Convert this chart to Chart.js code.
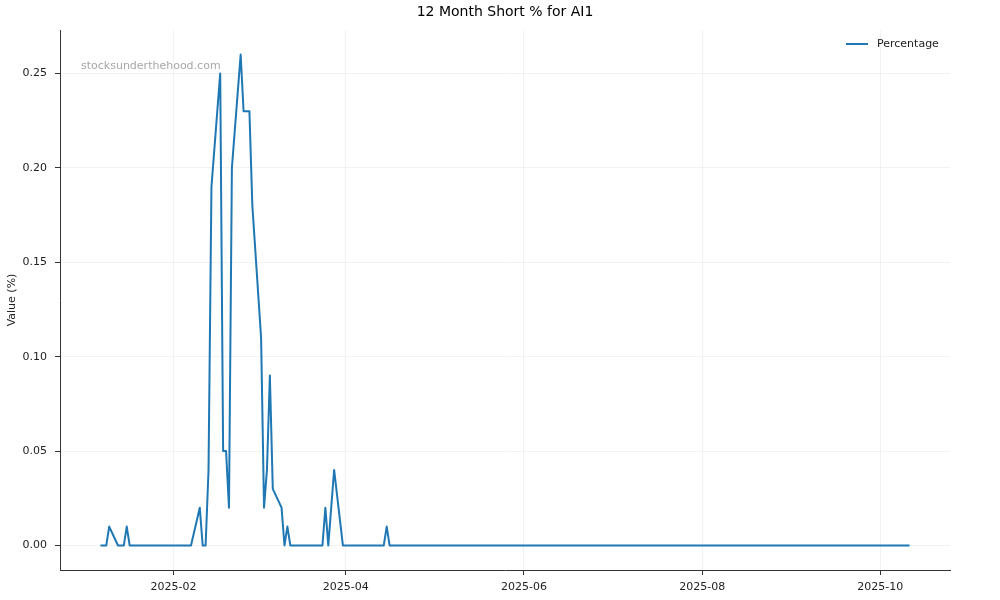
<!DOCTYPE html>
<html>
<head>
<meta charset="utf-8">
<script src="https://cdn.jsdelivr.net/npm/chart.js@4.4.1/dist/chart.umd.min.js"></script>
<style>
  html, body { margin: 0; padding: 0; background: #fff; }
  #wrap { width: 1000px; height: 600px; position: relative; }
</style>
</head>
<body>
<div id="wrap"><canvas id="c" width="1000" height="600"></canvas></div>
<script>
// ---- data ----
const chartTitle = '12 Month Short % for AI1';
const seriesName = 'Percentage';
const yAxisLabel = 'Value (%)';
const watermark = 'stocksunderthehood.com';

const dates = [
  '2025-01-07','2025-01-09','2025-01-10','2025-01-13','2025-01-15','2025-01-16','2025-01-17',
  '2025-02-07','2025-02-10','2025-02-11','2025-02-12','2025-02-13','2025-02-14','2025-02-17',
  '2025-02-18','2025-02-19','2025-02-20','2025-02-21','2025-02-24','2025-02-25','2025-02-26',
  '2025-02-27','2025-02-28','2025-03-03','2025-03-04','2025-03-05','2025-03-06','2025-03-07',
  '2025-03-10','2025-03-11','2025-03-12','2025-03-13','2025-03-24','2025-03-25','2025-03-26',
  '2025-03-27','2025-03-28','2025-03-31','2025-04-14','2025-04-15','2025-04-16','2025-10-11'
];
const values = [
  0.00, 0.00, 0.01, 0.00, 0.00, 0.01, 0.00,
  0.00, 0.02, 0.00, 0.00, 0.04, 0.19, 0.25,
  0.05, 0.05, 0.02, 0.20, 0.26, 0.23, 0.23,
  0.23, 0.18, 0.11, 0.02, 0.04, 0.09, 0.03,
  0.02, 0.00, 0.01, 0.00, 0.00, 0.02, 0.00,
  0.02, 0.04, 0.00, 0.00, 0.01, 0.00, 0.00
];
const xTickDates = ['2025-02-01','2025-04-01','2025-06-01','2025-08-01','2025-10-01'];
const xTickLabels = ['2025-02','2025-04','2025-06','2025-08','2025-10'];
const yTickValues = [0.00, 0.05, 0.10, 0.15, 0.20, 0.25];
const yTickLabels = ['0.00','0.05','0.10','0.15','0.20','0.25'];

// ---- build ----
const ts = d => Date.parse(d + 'T00:00:00Z');
const points = dates.map((d, i) => ({ x: ts(d), y: values[i] }));
const xTicks = xTickDates.map(ts);

const xMinD = Math.min(...points.map(p => p.x)), xMaxD = Math.max(...points.map(p => p.x));
const yMinD = Math.min(...values), yMaxD = Math.max(...values);
const xPad = (xMaxD - xMinD) * 0.05, yPad = (yMaxD - yMinD) * 0.05;

const FONT = 'DejaVu Sans';
const LINE = '#1f77b4';

const overlay = {
  id: 'overlay',
  afterDraw(chart) {
    const { ctx, chartArea: a } = chart;
    ctx.save();
    // title
    ctx.fillStyle = '#000';
    ctx.font = '14px "' + FONT + '"';
    ctx.textAlign = 'center';
    ctx.textBaseline = 'middle';
    ctx.fillText(chartTitle, (a.left + a.right) / 2, 12);
    // watermark
    ctx.fillStyle = 'rgba(128,128,128,0.7)';
    ctx.font = '11px "' + FONT + '"';
    ctx.textAlign = 'left';
    ctx.fillText(watermark, a.left + 21, 66);
    // legend
    ctx.strokeStyle = LINE;
    ctx.lineWidth = 2;
    ctx.beginPath();
    ctx.moveTo(846, 44);
    ctx.lineTo(868, 44);
    ctx.stroke();
    ctx.fillStyle = '#222';
    ctx.fillText(seriesName, 877, 44.5);
    ctx.restore();
  }
};

new Chart(document.getElementById('c'), {
  type: 'line',
  data: {
    datasets: [{
      label: seriesName,
      data: points,
      borderColor: LINE,
      backgroundColor: LINE,
      borderWidth: 2,
      borderJoinStyle: 'round',
      borderCapStyle: 'butt',
      pointRadius: 0,
      tension: 0,
      fill: false
    }]
  },
  options: {
    responsive: false,
    animation: false,
    devicePixelRatio: 1,
    layout: { padding: { left: 0, top: 30, right: 50, bottom: 0 } },
    plugins: {
      legend: { display: false },
      title: { display: false },
      tooltip: { enabled: false }
    },
    scales: {
      x: {
        type: 'linear',
        min: xMinD - xPad,
        max: xMaxD + xPad,
        afterBuildTicks: axis => { axis.ticks = xTicks.map(v => ({ value: v })); },
        afterFit: axis => { axis.height = 30; },
        ticks: {
          autoSkip: false,
          maxRotation: 0,
          padding: 6,
          color: '#222',
          font: { family: FONT, size: 11 },
          callback: (v) => { const i = xTicks.indexOf(v); return i >= 0 ? xTickLabels[i] : ''; }
        },
        grid: { color: 'rgba(0,0,0,0.05)', tickColor: '#333', tickLength: 5, lineWidth: 1 },
        border: { display: true, color: '#333', width: 1 }
      },
      y: {
        type: 'linear',
        min: yMinD - yPad,
        max: yMaxD + yPad,
        afterBuildTicks: axis => { axis.ticks = yTickValues.map(v => ({ value: v })); },
        afterFit: axis => { axis.width = 60; },
        ticks: {
          autoSkip: false,
          padding: 8,
          color: '#222',
          font: { family: FONT, size: 11 },
          callback: (v) => { const i = yTickValues.findIndex(t => Math.abs(t - v) < 1e-9); return i >= 0 ? yTickLabels[i] : ''; }
        },
        title: {
          display: true,
          text: yAxisLabel,
          color: '#222',
          font: { family: FONT, size: 11 },
          padding: { top: 6, bottom: 0 }
        },
        grid: { color: 'rgba(0,0,0,0.05)', tickColor: '#333', tickLength: 5, lineWidth: 1 },
        border: { display: true, color: '#333', width: 1 }
      }
    }
  },
  plugins: [overlay]
});
</script>
</body>
</html>
